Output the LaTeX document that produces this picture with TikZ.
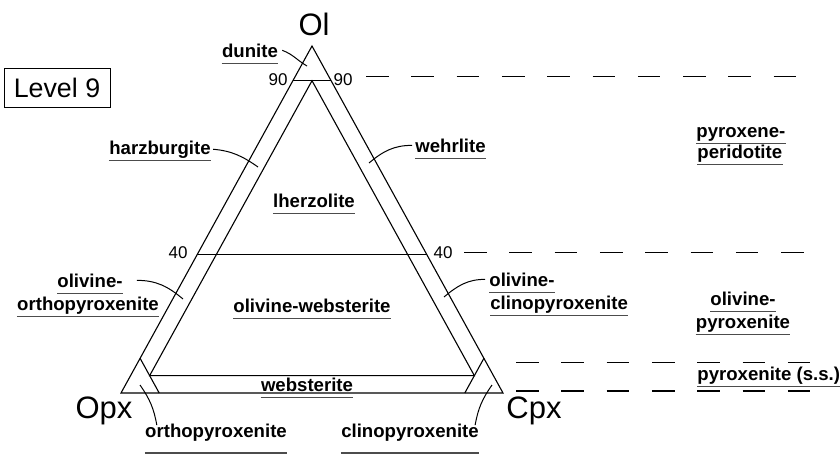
\documentclass[tikz,border=0pt]{standalone}
\usepackage{fontspec}
\setmainfont{Liberation Sans}
\usetikzlibrary{calc}
\newcommand\rockfont{\fontsize{9.3}{11}\selectfont\bfseries}
\newcommand\numfont{\fontsize{8.5}{10}\selectfont}
\newcommand\cornerfont{\fontsize{15.5}{18}\selectfont}
\tikzset{
	tri/.style={line width=0.55pt},
	uline/.style={draw=black!70, line width=0.75pt},
	rock/.style={font=\rockfont, inner sep=0pt, anchor=base,
		append after command={([yshift=-#1]\tikzlastnode.base west) edge[uline] ([yshift=-#1]\tikzlastnode.base east)}},
	rock/.default=3.3pt,
	leader/.style={line width=0.5pt},
	levelline/.style={line width=0.55pt, dash pattern=on 11.3pt off 11.35pt},
	num/.style={font=\numfont, inner sep=0pt},
}
\begin{document}
\begin{tikzpicture}[x=0.5pt, y=-0.5pt]
	\useasboundingbox (0,0) rectangle (840,455);
	%corners
	\coordinate (Ol) at (312,46);
	\coordinate (Opx) at (121,393);
	\coordinate (Cpx) at (503,393);
	\node[font=\cornerfont, inner sep=0pt, anchor=base] (olv) at (314,35) {Ol};
	\node[font=\cornerfont, inner sep=0pt, anchor=base] (opxv) at (104,418) {Opx};
	\node[font=\cornerfont, inner sep=0pt, anchor=base] (cpxv) at (534,418) {Cpx};
	%outer triangle
	\draw[tri] (Ol) -- (Opx) -- (Cpx) -- cycle;
	%inner triangle
	\coordinate (inA) at (barycentric cs:Ol=.9,Opx=.05,Cpx=.05);
	\coordinate (inL) at (barycentric cs:Ol=.05,Opx=.9,Cpx=.05);
	\coordinate (inR) at (barycentric cs:Ol=.05,Opx=.05,Cpx=.9);
	\draw[tri] (inA) -- (inL) -- (inR) -- cycle;
	%ol lines
	\coordinate (ol90l) at (barycentric cs:Ol=.9,Opx=.1);
	\coordinate (ol90r) at (barycentric cs:Ol=.9,Cpx=.1);
	\coordinate (ol40l) at (barycentric cs:Ol=.4,Opx=.6);
	\coordinate (ol40r) at (barycentric cs:Ol=.4,Cpx=.6);
	\draw[tri] (ol90l) -- (ol90r);
	\draw[tri] (ol40l) -- (ol40r);
	%corner lines
	\coordinate (opx90a) at (barycentric cs:Ol=.1,Opx=.9);
	\coordinate (opx90b) at (barycentric cs:Opx=.9,Cpx=.1);
	\coordinate (cpx90a) at (barycentric cs:Ol=.1,Cpx=.9);
	\coordinate (cpx90b) at (barycentric cs:Opx=.1,Cpx=.9);
	\draw[tri] (opx90a) -- (opx90b);
	\draw[tri] (cpx90a) -- (cpx90b);
	%ticks
	\node[num] (n90l) at (278,80) {90};
	\node[num] (n90r) at (343,80) {90};
	\node[num] (n40l) at (178,252.5) {40};
	\node[num] (n40r) at (443,252.5) {40};
	%levels
	\foreach \y/\xa/\xb in {76.5/366/797, 252.5/464/805, 362.5/516/810, 391/516/810}
	\draw[levelline] (\xa,\y) -- (\xb,\y);
	\node[draw, line width=0.5pt, minimum width=53pt, minimum height=19.5pt,
		font=\fontsize{13.4}{16}\selectfont] (level) at (57,87.5) {Level 9};
	%rock names
	\node[rock] (dun) at (250,57) {dunite};
	\node[rock] (harz) at (160,154) {harzburgite};
	\node[rock, anchor=base west] (wehr) at (415,152) {wehrlite};
	\node[rock] (lherz) at (314,207) {lherzolite};
	\node[rock] (olol1) at (90,287) {olivine-};
	\node[rock] (olol2) at (88,310) {orthopyroxenite};
	\node[rock] (olweb) at (312,312) {olivine-websterite};
	\node[rock, anchor=base west] (olcl1) at (489,286) {olivine-};
	\node[rock, anchor=base west] (olcl2) at (490,309) {clinopyroxenite};
	\node[rock] (web) at (307,391) {websterite};
	\node[rock=8pt] (ortho) at (216,437) {orthopyroxenite};
	\node[rock=8pt] (clino) at (410,437) {clinopyroxenite};
	\node[rock, anchor=base west] (pxpd1) at (696,137) {pyroxene-};
	\node[rock, anchor=base west] (pxpd2) at (697,158) {peridotite};
	\node[rock] (olpx1) at (743,305) {olivine-};
	\node[rock] (olpx2) at (743,328) {pyroxenite};
	\node[rock, anchor=base west] (pxss) at (697,380) {pyroxenite (s.s.)};
	%leaders
	\coordinate (dunpt) at (307,66);
	\coordinate (harzpt) at (258,167);
	\coordinate (wehrpt) at (369,163);
	\coordinate (ololpt) at (183,299);
	\coordinate (olclpt) at (444,297);
	\coordinate (orthopt) at (140,385);
	\coordinate (clinopt) at (492,385);
	\draw[leader] ([xshift=2pt]dun.east) to[out=-20, in=150] (dunpt);
	\draw[leader] ([xshift=1pt]harz.east) to[out=-5, in=145] (harzpt);
	\draw[leader] ([xshift=-1.5pt]wehr.west) to[out=180, in=40] (wehrpt);
	\draw[leader] ([xshift=7pt]olol1.east) to[out=0, in=140] (ololpt);
	\draw[leader] ([xshift=-2pt]olcl1.west) to[out=180, in=40] (olclpt);
	\draw[leader] (orthopt) to[out=-55, in=100] ([xshift=6pt, yshift=-1pt]ortho.north west);
	\draw[leader] (clinopt) to[out=-125, in=80] ([xshift=-2pt, yshift=-1pt]clino.north east);
\end{tikzpicture}
\end{document}
